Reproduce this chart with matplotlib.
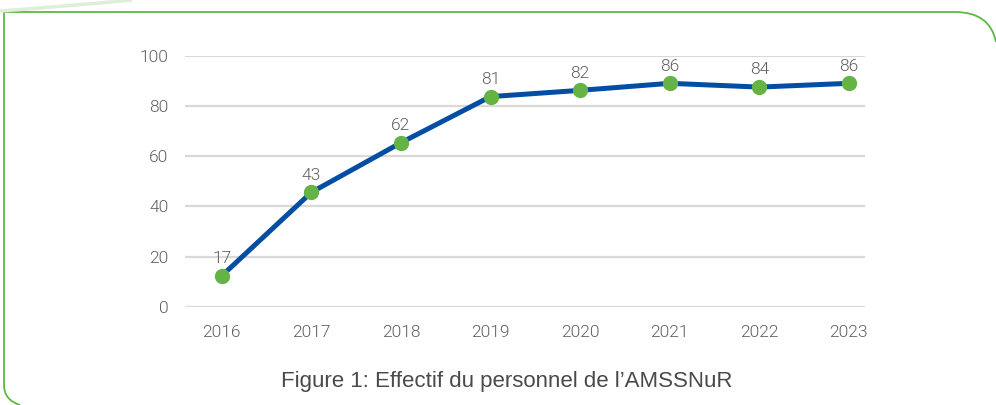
import matplotlib.pyplot as plt
from matplotlib.path import Path
from matplotlib.patches import PathPatch

annees = ['2016', '2017', '2018', '2019', '2020', '2021', '2022', '2023']
# positions des points
valeurs = [12.3, 45.6, 65.4, 83.8, 86.3, 89.1, 87.6, 89.1]
# étiquettes affichées au-dessus des points
etiquettes = ['17', '43', '62', '81', '82', '86', '84', '86']
graduations = [0, 20, 40, 60, 80, 100]

W, H = 996, 405
fig = plt.figure(figsize=(W / 100, H / 100), dpi=100)
ax = fig.add_axes([185 / W, 1 - 306.7 / H, 680 / W, 250.7 / H])

gris = '#5f5f5f'
police = ['Roboto', 'DejaVu Sans']

x = list(range(len(annees)))
ax.plot(x, valeurs, color='#034EA2', lw=3.6, zorder=3, solid_capstyle='round')
ax.plot(x, valeurs, 'o', color='#66B345', ms=10, zorder=4)
for xi, v, t in zip(x, valeurs, etiquettes):
    ax.annotate(t, (xi, v), xytext=(0, 7), textcoords='offset points',
                ha='center', va='bottom', fontsize=12.5, color=gris,
                family=police, fontweight=300)

ax.set_xlim(-0.41, 7.18)
ax.set_ylim(0, 100)
ax.set_yticks(graduations)
ax.set_xticks(x)
ax.set_xticklabels(annees)
ax.grid(axis='y', color='#D9D9D9', lw=1.6)
ax.set_axisbelow(True)
for s in ax.spines.values():
    s.set_visible(False)
ax.tick_params(length=0, labelsize=12.5, labelcolor=gris, pad=13)
ax.tick_params(axis='y', pad=12)
for lab in ax.get_xticklabels() + ax.get_yticklabels():
    lab.set_family(police)
    lab.set_fontweight(300)


def px(xp, yp):
    return (xp / W, 1 - yp / H)


# cadre vert arrondi
verts = [px(20, 405), px(4, 400), px(4, 385), px(4, 12),
         px(955, 12), px(990, 12), px(996, 42)]
codes = [Path.MOVETO, Path.CURVE3, Path.CURVE3, Path.LINETO,
         Path.LINETO, Path.CURVE3, Path.CURVE3]
fig.add_artist(PathPatch(Path(verts, codes), fill=False, edgecolor='#5DB845',
                         lw=1.3, transform=fig.transFigure))
# arc clair en haut à gauche
verts2 = [px(0, 11), px(70, 6), px(132, 0)]
fig.add_artist(PathPatch(Path(verts2, [Path.MOVETO, Path.CURVE3, Path.CURVE3]),
                         fill=False, edgecolor='#DDEFD6', lw=2.5,
                         transform=fig.transFigure))

fig.text(507 / W, 1 - 381 / H, "Figure 1: Effectif du personnel de l\u2019AMSSNuR",
         ha='center', va='center', fontsize=16, color='#4a4a4a',
         family=['Liberation Sans', 'DejaVu Sans'])

fig.savefig('out.png', dpi=100)
